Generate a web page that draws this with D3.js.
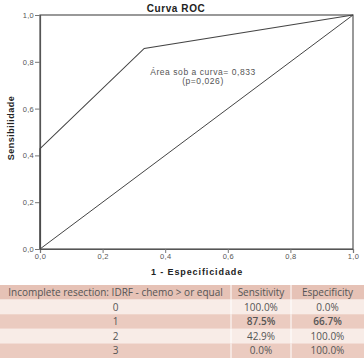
<!DOCTYPE html>
<meta charset="utf-8">
<script src="https://d3js.org/d3.v7.min.js"></script>
<style>
  body { margin: 0; background: #fff; }
</style>
<div id="my_div"></div>

<script>
    // ROC points (1 - especificidade, sensibilidade)
    var rocX = [0, 0, 0.333, 1];
    var rocY = [0, 0.429, 0.857, 1];
    var tickValues = [0, 0.2, 0.4, 0.6, 0.8, 1.0];

    // table underneath
    var tableHeader = ["Incomplete resection: IDRF - chemo  > or equal", "Sensitivity", "Especificity"];
    var cutoffs = ["0", "1", "2", "3"];
    var sensitivity = ["100.0%", "87.5%", "42.9%", "0.0%"];
    var especificity = ["0.0%", "66.7%", "100.0%", "100.0%"];
    var boldRow = "1";

    var W = 364, H = 358;
    var svg = d3.select("#my_div")
      .append("svg")
        .attr("width", W)
        .attr("height", H);

    // plot area
    var x = d3.scaleLinear().domain([0, 1]).range([40, 353]);
    var y = d3.scaleLinear().domain([0, 1]).range([249, 15]);

    var fmt = function(d) { return d3.format(".1f")(d).replace(".", ","); };

    // frame (top and right)
    svg.append("rect")
      .attr("x", x(0)).attr("y", y(1))
      .attr("width", x(1) - x(0)).attr("height", y(0) - y(1))
      .style("fill", "none").style("stroke", "#555").style("stroke-width", 1.2);

    var xAxis = svg.append("g")
      .attr("transform", "translate(0," + y(0) + ")")
      .call(d3.axisBottom(x).tickValues(tickValues).tickSize(4).tickFormat(fmt));
    var yAxis = svg.append("g")
      .attr("transform", "translate(" + x(0) + ",0)")
      .call(d3.axisLeft(y).tickValues(tickValues).tickSize(5).tickFormat(fmt));

    [xAxis, yAxis].forEach(function(a) {
      a.select(".domain").style("stroke", "#555").style("stroke-width", 1.2);
      a.selectAll(".tick line").style("stroke", "#777");
      a.selectAll("text")
        .style("font-family", "Liberation Sans, Arial, sans-serif")
        .style("font-size", "7.5px")
        .style("letter-spacing", "0.3px")
        .style("fill", "#555");
    });
    xAxis.selectAll("text").attr("dy", "0.65em").attr("y", 5);
    yAxis.selectAll("text").attr("x", -6);

    // reference diagonal
    svg.append("line")
      .attr("x1", x(0)).attr("y1", y(0))
      .attr("x2", x(1)).attr("y2", y(1))
      .style("stroke", "#444").style("stroke-width", 1);

    // ROC curve
    var line = d3.line()
      .x(function(d) { return x(d[0]); })
      .y(function(d) { return y(d[1]); });
    svg.append("path")
      .datum(d3.zip(rocX, rocY))
      .attr("d", line)
      .style("fill", "none")
      .style("stroke", "#444")
      .style("stroke-width", 1.1);

    // titles
    svg.append("text")
      .attr("x", 176).attr("y", 12)
      .attr("text-anchor", "middle")
      .style("font-family", "Liberation Sans, Arial, sans-serif")
      .style("font-weight", "bold")
      .style("font-size", "10px")
      .style("letter-spacing", "0.6px")
      .style("fill", "#222")
      .text("Curva ROC");

    svg.append("text")
      .attr("x", 197).attr("y", 275)
      .attr("text-anchor", "middle")
      .style("font-family", "Liberation Sans, Arial, sans-serif")
      .style("font-weight", "bold")
      .style("font-size", "9px")
      .style("letter-spacing", "0.9px")
      .style("fill", "#222")
      .text("1 - Especificidade");

    svg.append("text")
      .attr("transform", "translate(14,128) rotate(-90)")
      .attr("text-anchor", "middle")
      .style("font-family", "Liberation Sans, Arial, sans-serif")
      .style("font-weight", "bold")
      .style("font-size", "9px")
      .style("letter-spacing", "0.5px")
      .style("fill", "#222")
      .text("Sensibilidade");

    // area annotation
    var note = svg.append("text")
      .attr("text-anchor", "middle")
      .style("font-family", "Liberation Sans, Arial, sans-serif")
      .style("font-size", "8.5px")
      .style("letter-spacing", "0.55px")
      .style("fill", "#555");
    note.append("tspan").attr("x", 203).attr("y", 75).text("Área sob a curva= 0,833");
    note.append("tspan").attr("x", 203).attr("y", 84).text("(p=0,026)");

    // table
    var colStart = [0, 231, 291];
    var colEnd = [231, 291, 364];
    var rowScale = d3.scaleBand()
      .domain(["header"].concat(cutoffs))
      .range([285, 358]);

    var rows = [tableHeader].concat(cutoffs.map(function(c, i) {
      return [c, sensitivity[i], especificity[i]];
    }));
    var rowKeys = rowScale.domain();

    var rowG = svg.selectAll(".trow")
      .data(rows)
      .enter()
      .append("g")
        .attr("class", "trow")
        .attr("transform", function(d, i) { return "translate(0," + rowScale(rowKeys[i]) + ")"; });

    rowG.append("rect")
      .attr("x", 0)
      .attr("width", W)
      .attr("height", rowScale.bandwidth())
      .style("fill", function(d, i) {
        if (i === 0) return "#e6c2b6";
        return i % 2 === 1 ? "#f8ece7" : "#ebcbc0";
      });

    // white separators
    rowG.selectAll(".sep")
      .data([colStart[1], colStart[2]])
      .enter()
      .append("line")
        .attr("x1", function(d) { return d; })
        .attr("x2", function(d) { return d; })
        .attr("y1", 0)
        .attr("y2", rowScale.bandwidth())
        .style("stroke", "#fff")
        .style("stroke-width", 1);

    rowG.selectAll(".cell")
      .data(function(d, i) { return d.map(function(v, j) { return {v: v, j: j, row: i}; }); })
      .enter()
      .append("text")
        .attr("x", function(d) { return (colStart[d.j] + colEnd[d.j]) / 2; })
        .attr("y", rowScale.bandwidth() / 2)
        .attr("dy", "0.36em")
        .attr("text-anchor", "middle")
        .style("font-family", "Open Sans, Noto Sans, sans-serif")
        .style("font-size", "10px")
        .style("font-weight", function(d) {
          return (d.row > 0 && cutoffs[d.row - 1] === boldRow && d.j > 0) ? "600" : "normal";
        })
        .style("fill", "#555")
        .text(function(d) { return d.v; });
</script>
